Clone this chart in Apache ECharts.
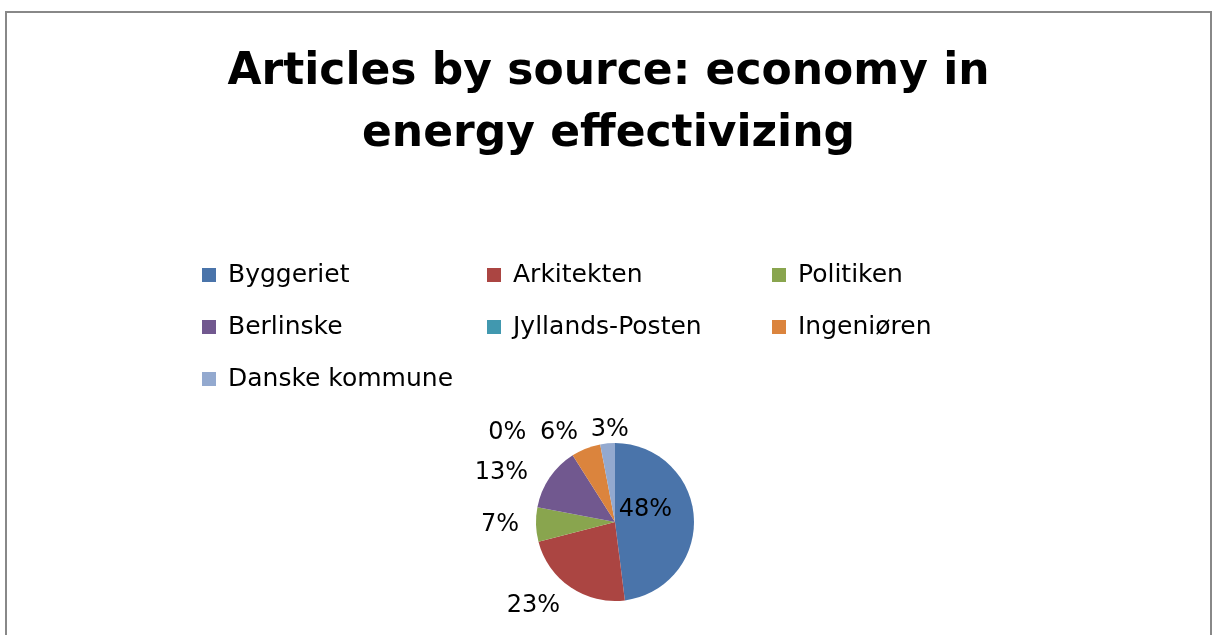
<!DOCTYPE html>
<html>
<head>
<meta charset="utf-8">
<script src="https://cdn.jsdelivr.net/npm/echarts@6/dist/echarts.min.js"></script>
<style>
  html, body { margin: 0; padding: 0; background: #fff; }
  #frame {
    position: absolute; left: 5px; top: 11px; width: 1203px; height: 640px;
    border: 2px solid #888; border-bottom: none;
  }
  #chart { position: absolute; left: 0; top: 0; width: 1217px; height: 635px; }
</style>
</head>
<body>
<div id="frame"></div>
<div id="chart"></div>
<script>
const sources = ["Byggeriet", "Arkitekten", "Politiken", "Berlinske", "Jyllands-Posten", "Ingeniøren", "Danske kommune"];
const shares = [48, 23, 7, 13, 0, 6, 3];
const colors = ["#4A74AA", "#AB4542", "#89A54E", "#71588F", "#4198AF", "#DB843D", "#93A9CF"];

const chart = echarts.init(document.getElementById("chart"));

const pieData = sources.map((name, i) => {
  const item = { name: name, value: shares[i], itemStyle: { color: colors[i] } };
  if (i === 0) {
    item.label = { position: "inside" };
  }
  if (i === 4) {
    // zero slice: push its label sideways so it sits next to 6%
    item.labelLine = { show: false, length: 8, length2: 42 };
  }
  return item;
});

// small nudges so the labels sit where Excel's best-fit put them
const nudge = {
  0: [-12, -10],
  1: [3, 12],
  3: [-6, 0],
  4: [5, -16],
  5: [4, -8],
  6: [31, -6]
};

chart.setOption({
  animation: false,
  title: {
    text: "Articles by source: economy in\nenergy effectivizing",
    left: "center",
    top: 37,
    textStyle: {
      fontFamily: "DejaVu Sans",
      fontWeight: "bold",
      fontSize: 44,
      lineHeight: 62,
      color: "#000"
    }
  },
  legend: {
    data: sources,
    left: 202,
    top: 262,
    width: 870,
    icon: "rect",
    itemWidth: 14,
    itemHeight: 14,
    itemGap: 26,
    padding: 0,
    selectedMode: false,
    textStyle: {
      fontFamily: "DejaVu Sans",
      fontSize: 25,
      lineHeight: 26,
      width: 233,
      padding: [0, 0, 0, 7],
      color: "#000"
    }
  },
  series: [
    {
      type: "pie",
      center: [615, 522],
      radius: 79,
      startAngle: 90,
      clockwise: true,
      avoidLabelOverlap: false,
      silent: true,
      itemStyle: { borderWidth: 0 },
      label: {
        show: true,
        position: "outside",
        formatter: "{d}%",
        fontFamily: "DejaVu Sans",
        fontSize: 24,
        color: "#000"
      },
      labelLine: { show: false, length: 8, length2: 4 },
      labelLayout: (params) => {
        const d = nudge[params.dataIndex] || [0, 0];
        return { dx: d[0], dy: d[1], hideOverlap: false };
      },
      data: pieData
    }
  ]
});
</script>
</body>
</html>
